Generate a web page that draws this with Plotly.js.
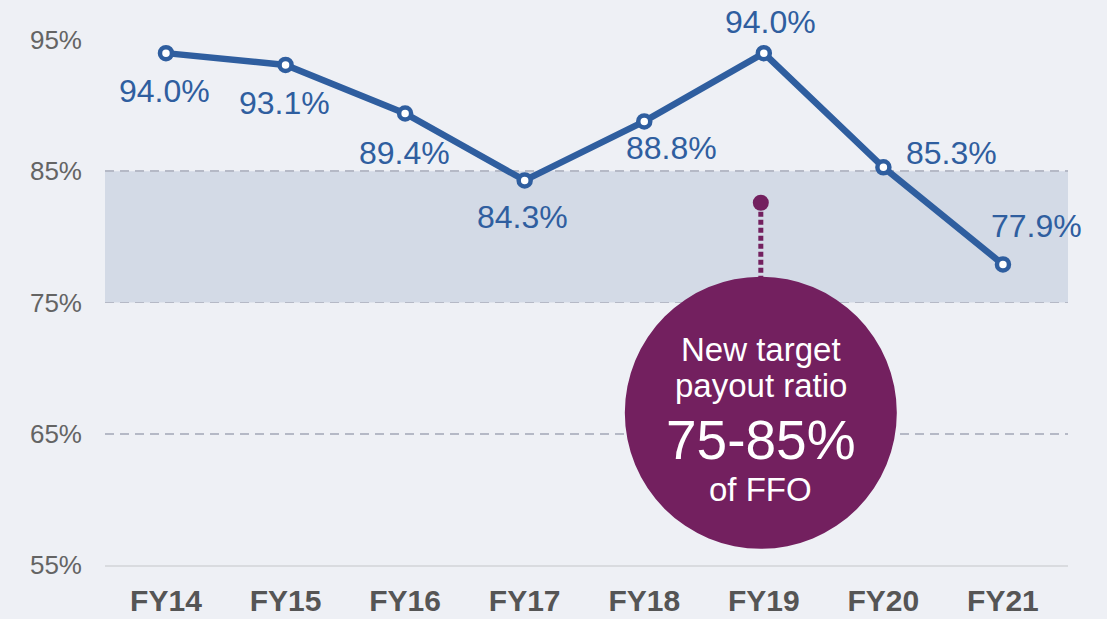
<!DOCTYPE html>
<html>
<head>
<meta charset="utf-8">
<script src="https://cdn.plot.ly/plotly-3.0.1.min.js"></script>
<style>html,body{margin:0;padding:0;background:#eef0f5;}#chart{width:1107px;height:619px;}</style>
</head>
<body>
<div id="chart"></div>
<script>
// ---- data ----
var categories = ["FY14", "FY15", "FY16", "FY17", "FY18", "FY19", "FY20", "FY21"];
var payoutRatio = [94.0, 93.1, 89.4, 84.3, 88.8, 94.0, 85.3, 77.9];
var pointLabels = ["94.0%", "93.1%", "89.4%", "84.3%", "88.8%", "94.0%", "85.3%", "77.9%"];
var yTickValues = [55, 65, 75, 85, 95];
var yTickLabels = ["55%", "65%", "75%", "85%", "95%"];
var targetRange = [75, 85];
var calloutLines = ["New target", "payout ratio", "75-85%", "of FFO"];

// ---- layout helpers (pixel offsets of labels relative to their points) ----
var labelShift = [[-1,-38],[-1,-38],[-1,-39],[-2,-37],[27,-27],[7,31],[68,14],[34,38]];
var xIdx = categories.map(function(c, i){ return i; });

var blue = "#2f5e9f";
var purple = "#73205f";
var fam = "Liberation Sans, Arial, sans-serif";

var annotations = payoutRatio.map(function(v, i){
  return {
    x: xIdx[i], y: v, xref: "x", yref: "y",
    text: pointLabels[i], showarrow: false,
    xanchor: "center", yanchor: "middle",
    xshift: labelShift[i][0], yshift: labelShift[i][1],
    font: {family: fam, size: 32, color: blue}
  };
});

// callout circle, anchored near FY19
var calloutX = 5;
var calloutY = 66.6;
var calloutDX = -3;
var calloutText = [
  {t: calloutLines[0], dy: 63, size: 33},
  {t: calloutLines[1], dy: 27, size: 33},
  {t: calloutLines[2], dy: -27, size: 55},
  {t: calloutLines[3], dy: -77, size: 33}
];
calloutText.forEach(function(c){
  annotations.push({
    x: calloutX, y: calloutY, xref: "x", yref: "y",
    text: c.t, showarrow: false, xanchor: "center", yanchor: "middle",
    xshift: calloutDX, yshift: c.dy,
    font: {family: fam, size: c.size, color: "#ffffff"}
  });
});

var shapes = [
  {type: "rect", xref: "paper", yref: "y", x0: 0, x1: 1, y0: targetRange[0], y1: targetRange[1],
   fillcolor: "#d3dae6", line: {width: 0}, layer: "below"},
  {type: "line", xref: "x", yref: "y", xsizemode: "pixel", ysizemode: "pixel",
   xanchor: calloutX, yanchor: calloutY, x0: calloutDX, x1: calloutDX, y0: 201, y1: 135,
   line: {color: purple, width: 5, dash: "5px,3px"}, layer: "above"},
  {type: "circle", xref: "x", yref: "y", xsizemode: "pixel", ysizemode: "pixel",
   xanchor: calloutX, yanchor: calloutY, x0: calloutDX - 8, x1: calloutDX + 8, y0: 202, y1: 218,
   fillcolor: purple, line: {width: 0}, layer: "above"},
  {type: "circle", xref: "x", yref: "y", xsizemode: "pixel", ysizemode: "pixel",
   xanchor: calloutX, yanchor: calloutY, x0: calloutDX - 136, x1: calloutDX + 136, y0: -136, y1: 136,
   fillcolor: purple, line: {width: 0}, layer: "above"}
];

var trace = {
  x: xIdx, y: payoutRatio, type: "scatter", mode: "lines+markers",
  line: {color: blue, width: 6.5},
  marker: {size: 12, color: "#ffffff", line: {color: blue, width: 4.5}},
  cliponaxis: false, hoverinfo: "skip"
};

var layout = {
  width: 1107, height: 619,
  margin: {l: 105, r: 39, t: 40, b: 54},
  paper_bgcolor: "#eef0f5", plot_bgcolor: "#eef0f5",
  showlegend: false,
  xaxis: {
    range: [-0.51, 7.544], tickvals: xIdx, ticktext: categories,
    showgrid: false, zeroline: false, showline: true, linecolor: "#d9dbdf", linewidth: 2,
    ticks: "", ticklabelstandoff: 8, fixedrange: true,
    tickfont: {family: fam, size: 30, color: "#555555", weight: "bold"}
  },
  yaxis: {
    range: [55, 95], tickvals: yTickValues, ticktext: yTickLabels,
    showgrid: true, gridcolor: "#b5b9c6", gridwidth: 1.6, griddash: "9px,6px",
    zeroline: false, showline: false, ticks: "", ticklabelstandoff: 22, fixedrange: true,
    tickfont: {family: fam, size: 26, color: "#646464"}
  },
  shapes: shapes,
  annotations: annotations
};

Plotly.newPlot("chart", [trace], layout, {displayModeBar: false, staticPlot: true});
</script>
</body>
</html>
